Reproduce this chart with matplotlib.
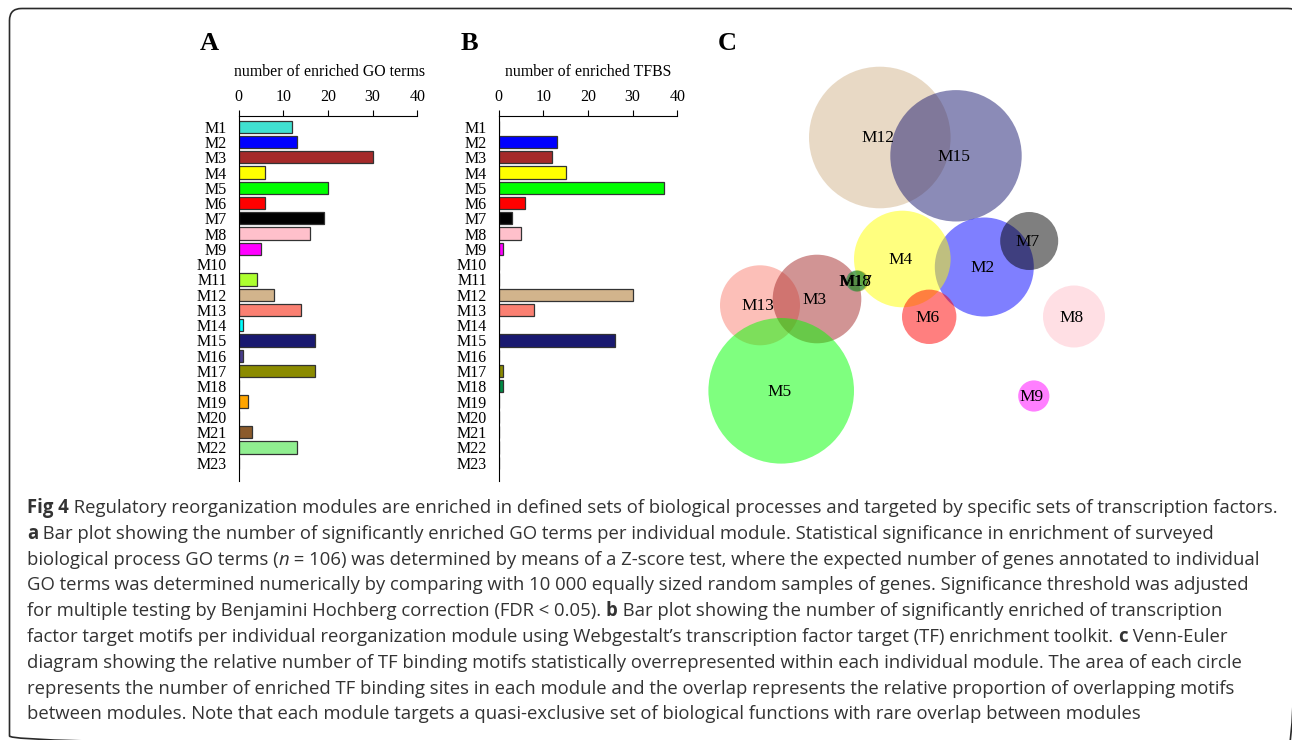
import matplotlib
matplotlib.use("Agg")
import matplotlib.pyplot as plt
from matplotlib.patches import Circle, FancyBboxPatch

# ---- data -------------------------------------------------------------
modules = ["M%d" % i for i in range(1, 24)]
go_terms = [12, 13, 30, 6, 20, 6, 19, 16, 5, 0, 4, 8, 14, 1, 17, 1, 17, 0, 2, 0, 3, 13, 0]
tfbs = [0, 13, 12, 15, 37, 6, 3, 5, 1, 0, 0, 30, 8, 0, 26, 0, 1, 1, 0, 0, 0, 0, 0]
module_colors = ["turquoise", "blue", "brown", "yellow", "lime", "red", "black",
                 "pink", "magenta", "grey", "greenyellow", "tan", "salmon", "cyan",
                 "midnightblue", "darkslateblue", "#8b8b00", "#008b45", "orange",
                 "#9acd32", "#8b5a2b", "lightgreen", "#aaaaaa"]
x_ticks = [0, 10, 20, 30, 40]

# Venn-Euler layout (drawing order), centres and radii in layout units
venn_names = ["M12", "M15", "M13", "M3", "M5", "M2", "M4", "M6", "M7", "M8", "M9", "M17", "M18"]
venn_x = [879.8, 956.0, 760.0, 817.0, 781.2, 984.3, 902.3, 929.2, 1029.2, 1074.0, 1033.8, 858.0, 856.5]
venn_y = [137.5, 155.8, 305.3, 299.0, 390.8, 267.0, 259.0, 316.8, 241.0, 316.5, 396.0, 281.0, 281.0]
venn_r = [70.8, 65.7, 40.0, 44.3, 72.8, 49.5, 48.3, 27.2, 29.0, 31.0, 15.6, 10.5, 10.5]

caption = [
    [("Fig 4", "bold", "normal"), (" Regulatory reorganization modules are enriched in defined sets of biological processes and targeted by specific sets of transcription factors.", "normal", "normal")],
    [("a", "bold", "normal"), (" Bar plot showing the number of significantly enriched GO terms per individual module. Statistical significance in enrichment of surveyed", "normal", "normal")],
    [("biological process GO terms (", "normal", "normal"), ("n", "normal", "italic"), (" = 106) was determined by means of a Z-score test, where the expected number of genes annotated to individual", "normal", "normal")],
    [("GO terms was determined numerically by comparing with 10 000 equally sized random samples of genes. Significance threshold was adjusted", "normal", "normal")],
    [("for multiple testing by Benjamini Hochberg correction (FDR < 0.05). ", "normal", "normal"), ("b", "bold", "normal"), (" Bar plot showing the number of significantly enriched of transcription", "normal", "normal")],
    [("factor target motifs per individual reorganization module using Webgestalt\u2019s transcription factor target (TF) enrichment toolkit. ", "normal", "normal"), ("c", "bold", "normal"), (" Venn-Euler", "normal", "normal")],
    [("diagram showing the relative number of TF binding motifs statistically overrepresented within each individual module. The area of each circle", "normal", "normal")],
    [("represents the number of enriched TF binding sites in each module and the overlap represents the relative proportion of overlapping motifs", "normal", "normal")],
    [("between modules. Note that each module targets a quasi-exclusive set of biological functions with rare overlap between modules", "normal", "normal")],
]

serif = "Liberation Serif"
cap_font = "Open Sans"
cap_color = "#333333"

W, H = 1292, 740
fig = plt.figure(figsize=(W / 100, H / 100), dpi=100)

# background axes in pixel units: frame, letters, titles, caption
bg = fig.add_axes([0, 0, 1, 1])
bg.set_xlim(0, W)
bg.set_ylim(H, 0)
bg.axis("off")
bg.add_patch(FancyBboxPatch((9.5, 8.5), 1290.5, 739.5, boxstyle="round,pad=0,rounding_size=12",
                            fill=False, edgecolor="#2a2a2a", linewidth=1.2))

for letter, lx in zip(["A", "B", "C"], [209, 469, 727]):
    bg.text(lx, 43, letter, family=serif, fontsize=19, fontweight="bold",
            ha="center", va="center")
bg.text(330, 72, "number of enriched GO terms", family=serif, fontsize=11.4,
        ha="center", va="center")
bg.text(588, 72, "number of enriched TFBS", family=serif, fontsize=11.4,
        ha="center", va="center")


def bar_panel(left_px, values, tick_labels):
    ax = fig.add_axes([left_px / W, 1 - 481 / H, 178.6 / W, (481 - 115.7) / H])
    ax.patch.set_alpha(0)
    ypos = list(range(len(values)))
    ax.barh(ypos, values, height=0.8, color=module_colors,
            edgecolor="#333333", linewidth=0.9)
    ax.set_xlim(0, 40)
    ax.set_ylim(23.2, -0.72)
    ax.xaxis.tick_top()
    ax.set_xticks(x_ticks)
    ax.set_yticks(ypos)
    ax.set_yticklabels(tick_labels)
    for lab in ax.get_xticklabels() + ax.get_yticklabels():
        lab.set_family(serif)
    ax.tick_params(axis="x", direction="out", length=4.5, width=0.8, pad=3, labelsize=11.5)
    ax.tick_params(axis="y", length=0, pad=8.6, labelsize=11.5)
    ax.spines["right"].set_visible(False)
    ax.spines["bottom"].set_visible(False)
    ax.spines["top"].set_linewidth(0.8)
    ax.spines["left"].set_linewidth(0.8)
    return ax


bar_panel(238.7, go_terms, modules)
bar_panel(498.7, tfbs, modules)

# Venn-Euler panel
vx = fig.add_axes([700 / W, 1 - 480 / H, 420 / W, 460 / H])
vx.patch.set_alpha(0)
vx.set_xlim(700, 1120)
vx.set_ylim(480, 20)
vx.axis("off")
for name, cx, cy, r in zip(venn_names, venn_x, venn_y, venn_r):
    col = module_colors[modules.index(name)]
    vx.add_patch(Circle((cx, cy), r, facecolor=col, alpha=0.5, edgecolor="none"))
for name, cx, cy in zip(venn_names, venn_x, venn_y):
    vx.text(cx - 2, cy + 1, name, family=serif, fontsize=12.5, ha="center", va="center")

# caption, fitted to the frame width
renderer = fig.canvas.get_renderer()
probe = bg.text(0, 0, "".join(t for t, _, _ in caption[0][1:]), family=cap_font, fontsize=12)
probe_b = bg.text(0, 0, caption[0][0][0], family=cap_font, fontsize=12, fontweight="bold")
w12 = probe.get_window_extent(renderer).width + probe_b.get_window_extent(renderer).width
probe.remove()
probe_b.remove()
cap_size = 12 * 1244 / w12

y0 = 513
for i, runs in enumerate(caption):
    x = 27
    y = y0 + i * 25.8
    for txt, weight, style in runs:
        t = bg.text(x, y, txt, family=cap_font, fontsize=cap_size, fontweight=weight,
                    fontstyle=style, color=cap_color, ha="left", va="baseline")
        x += t.get_window_extent(renderer).width

fig.savefig("out.png", dpi=100)
